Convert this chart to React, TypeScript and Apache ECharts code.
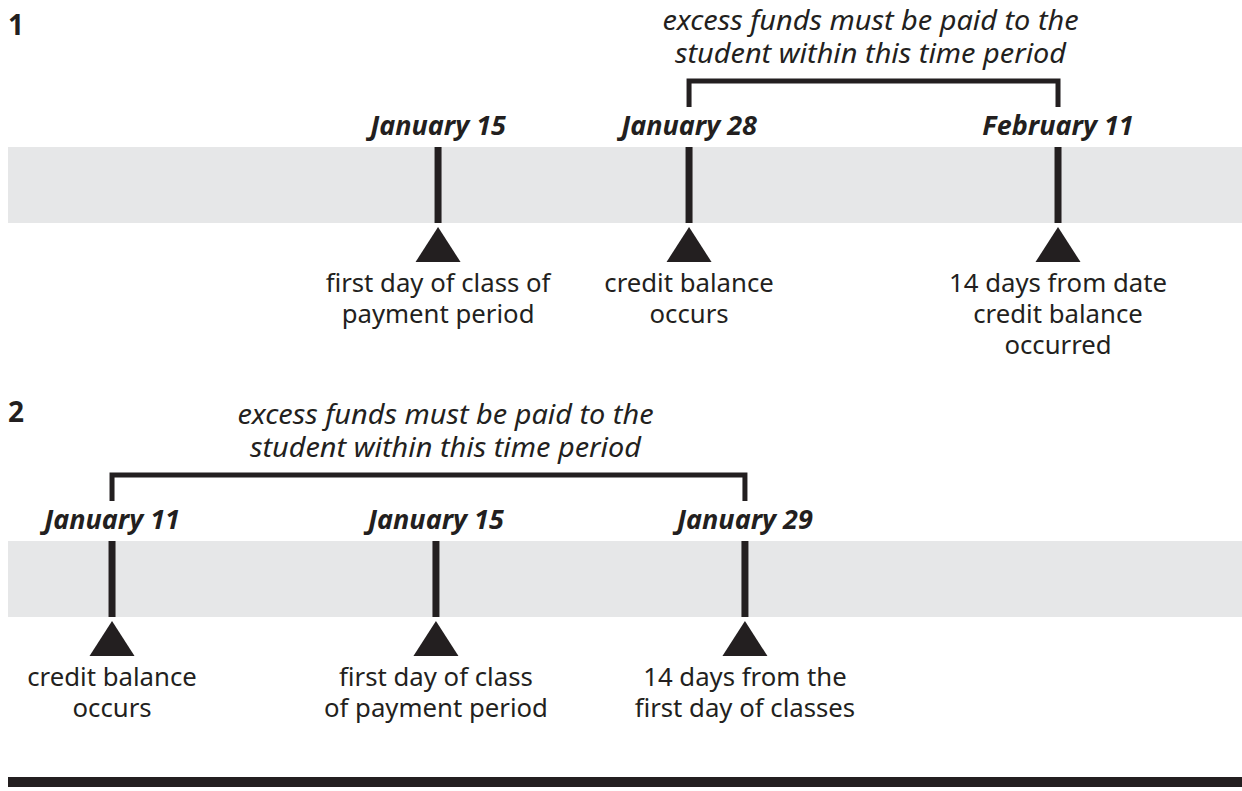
import React, { useEffect, useRef } from "react";
import * as echarts from "echarts";

// ---- content ----
const panelNumbers = ["1", "2"];
const bracketNote = "excess funds must be paid to the\nstudent within this time period";

const dates1 = ["January 15", "January 28", "February 11"];
const captions1 = [
  "first day of class of\npayment period",
  "credit balance\noccurs",
  "14 days from date\ncredit balance\noccurred",
];
const window1 = ["January 28", "February 11"];

const dates2 = ["January 11", "January 15", "January 29"];
const captions2 = [
  "credit balance\noccurs",
  "first day of class\nof payment period",
  "14 days from the\nfirst day of classes",
];
const window2 = ["January 11", "January 29"];

// ---- layout (position of each date along the band, % of band width) ----
const layout = {
  slots1: [34.85, 55.19, 85.09],
  slots2: [8.43, 34.68, 59.72],
  noteShift1: -3,
  noteShift2: 17,
};

const INK = "#231f20";
const FONT = '"Noto Sans", "DejaVu Sans", sans-serif';

function eventRenderer(dates: string[], captions: string[]) {
  return (params: any, api: any) => {
    const i = params.dataIndex;
    const x = api.value(0);
    const top = api.coord([x, 1]);
    const bot = api.coord([x, 0]);
    const cx = top[0];
    return {
      type: "group",
      children: [
        {
          type: "rect",
          shape: { x: cx - 3.5, y: top[1], width: 7, height: bot[1] - top[1] },
          style: { fill: INK },
        },
        {
          type: "polygon",
          shape: {
            points: [
              [cx, bot[1] + 4],
              [cx - 22.5, bot[1] + 39],
              [cx + 22.5, bot[1] + 39],
            ],
          },
          style: { fill: INK },
        },
        {
          type: "text",
          x: cx,
          y: top[1] - 23,
          style: {
            text: dates[i],
            fill: INK,
            fontFamily: FONT,
            fontStyle: "italic",
            fontWeight: "bold",
            fontSize: 27,
            align: "center",
            verticalAlign: "middle",
          },
        },
        {
          type: "text",
          x: cx,
          y: bot[1] + 43.5,
          scaleX: 1.03,
          style: {
            text: captions[i],
            fill: INK,
            fontFamily: FONT,
            fontSize: 25,
            lineHeight: 31,
            align: "center",
            verticalAlign: "top",
          },
        },
      ],
    };
  };
}

function bracketRenderer(note: string, shift: number) {
  return (params: any, api: any) => {
    const a = api.coord([api.value(0), 1]);
    const b = api.coord([api.value(1), 1]);
    const yTop = a[1] - 66;
    const yLow = a[1] - 40;
    return {
      type: "group",
      children: [
        {
          type: "polyline",
          shape: {
            points: [
              [a[0], yLow],
              [a[0], yTop],
              [b[0], yTop],
              [b[0], yLow],
            ],
          },
          style: { stroke: INK, lineWidth: 5, fill: "none", lineJoin: "miter" },
        },
        {
          type: "text",
          x: (a[0] + b[0]) / 2 + shift,
          y: a[1] - 111,
          scaleX: 1.07,
          style: {
            text: note,
            fill: INK,
            fontFamily: FONT,
            fontStyle: "italic",
            fontSize: 27,
            lineHeight: 33,
            align: "center",
            verticalAlign: "middle",
          },
        },
      ],
    };
  };
}

export default function App() {
  const ref = useRef<HTMLDivElement>(null);
  useEffect(() => {
    if (!ref.current) return;
    const chart = echarts.init(ref.current, null, { renderer: "svg" });
    const idx = (arr: string[], d: string) => arr.indexOf(d);
    const option: any = {
      animation: false,
      backgroundColor: "#ffffff",
      grid: [
        { left: 8, right: 0, top: 147, height: 76, show: true, backgroundColor: "#e6e7e8", borderWidth: 0 },
        { left: 8, right: 0, top: 541, height: 76, show: true, backgroundColor: "#e6e7e8", borderWidth: 0 },
      ],
      xAxis: [
        { gridIndex: 0, type: "value", min: 0, max: 100, show: false },
        { gridIndex: 1, type: "value", min: 0, max: 100, show: false },
      ],
      yAxis: [
        { gridIndex: 0, type: "value", min: 0, max: 1, show: false },
        { gridIndex: 1, type: "value", min: 0, max: 1, show: false },
      ],
      graphic: [
        {
          type: "text",
          left: 8,
          top: 10,
          style: { text: panelNumbers[0], fill: INK, fontFamily: FONT, fontWeight: "bold", fontSize: 28 },
        },
        {
          type: "text",
          left: 8,
          top: 397,
          style: { text: panelNumbers[1], fill: INK, fontFamily: FONT, fontWeight: "bold", fontSize: 28 },
        },
        {
          type: "rect",
          left: 8,
          top: 777,
          shape: { width: 1234, height: 10 },
          style: { fill: INK },
        },
      ],
      series: [
        {
          type: "custom",
          xAxisIndex: 0,
          yAxisIndex: 0,
          silent: true,
          clip: false,
          data: dates1.map((_, i) => [layout.slots1[i], 0]),
          renderItem: eventRenderer(dates1, captions1),
        },
        {
          type: "custom",
          xAxisIndex: 0,
          yAxisIndex: 0,
          silent: true,
          clip: false,
          data: [[layout.slots1[idx(dates1, window1[0])], layout.slots1[idx(dates1, window1[1])]]],
          renderItem: bracketRenderer(bracketNote, layout.noteShift1),
        },
        {
          type: "custom",
          xAxisIndex: 1,
          yAxisIndex: 1,
          silent: true,
          clip: false,
          data: dates2.map((_, i) => [layout.slots2[i], 0]),
          renderItem: eventRenderer(dates2, captions2),
        },
        {
          type: "custom",
          xAxisIndex: 1,
          yAxisIndex: 1,
          silent: true,
          clip: false,
          data: [[layout.slots2[idx(dates2, window2[0])], layout.slots2[idx(dates2, window2[1])]]],
          renderItem: bracketRenderer(bracketNote, layout.noteShift2),
        },
      ],
    };
    chart.setOption(option);
    return () => chart.dispose();
  }, []);
  return (
    <div
      ref={ref}
      style={{ position: "fixed", left: 0, top: 0, width: 1242, height: 791, background: "#fff" }}
    />
  );
}
